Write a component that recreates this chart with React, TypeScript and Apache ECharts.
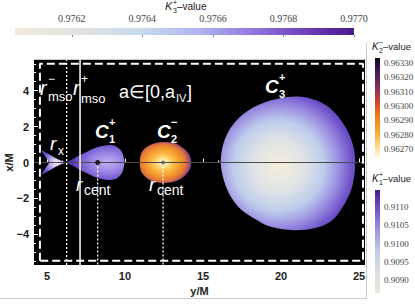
import React, { useEffect, useRef } from 'react';
import * as echarts from 'echarts';

// main plot ranges and ticks
const X_RANGE = [4.17, 25.38];
const Y_RANGE = [-5.71, 5.71];
const xTicks = [5, 10, 15, 20, 25];
const yTicks = [-4, -2, 0, 2, 4];
const xMinorTicks = [6, 7, 8, 9, 11, 12, 13, 14, 16, 17, 18, 19, 21, 22, 23, 24];
const yMinorTicks = [-5.5, -5, -4.5, -3.5, -3, -2.5, -1.5, -1, -0.5, 0.5, 1, 1.5, 2.5, 3, 3.5, 4.5, 5, 5.5];

// dashed domain box
const boxX = [4.55, 25.25];
const boxY = [-5.48, 5.5];

// characteristic radii
const rMsoMinus = 6.26;
const rMsoPlus = 7.12;
const rCent = [8.25, 12.44];

// closed surfaces (outline points, x = y/M, y = x/M)
const rxShape = [
  [4.64, 0.7], [5.1, 0.47], [5.6, 0.22], [6.0, 0.07], [6.26, 0], [6.0, -0.07], [5.6, -0.22], [5.1, -0.47],
  [4.64, -0.7], [4.8, -0.45], [4.98, -0.22], [5.15, 0], [4.98, 0.22], [4.8, 0.45],
];
const c1Shape = [
  [6.26, 0], [6.6, 0.16], [7.0, 0.36], [7.5, 0.57], [8.0, 0.78], [8.5, 0.92], [9.0, 0.98], [9.4, 0.92],
  [9.7, 0.72], [9.88, 0.43], [9.95, 0.15], [9.96, 0], [9.95, -0.15], [9.88, -0.43], [9.7, -0.72], [9.4, -0.92],
  [9.0, -0.98], [8.5, -0.92], [8.0, -0.78], [7.5, -0.57], [7.0, -0.36], [6.6, -0.16],
];
const c2Shape = [
  [10.95, 0], [11.06, 0.55], [11.45, 0.9], [12.0, 1.1], [12.6, 1.14], [13.3, 1.03], [13.85, 0.72], [14.17, 0.36],
  [14.25, 0], [14.17, -0.36], [13.85, -0.72], [13.3, -1.03], [12.6, -1.14], [12.0, -1.1], [11.45, -0.9], [11.06, -0.55],
];
const c3Shape = [
  [21.0, 3.68], [22.3, 3.45], [23.3, 2.9], [24.1, 2.0], [24.6, 1.0], [24.75, 0], [24.6, -1.2], [24.2, -2.1],
  [23.3, -3.2], [22.2, -3.65], [20.8, -3.77], [19.4, -3.6], [18.45, -3.2], [17.3, -2.5], [16.6, -1.6],
  [16.2, -0.5], [16.15, 0.3], [16.4, 1.3], [17.0, 2.2], [17.9, 2.9], [19.3, 3.45],
];

// colour bars
const k3Range = [0.976039, 0.977];
const k3Ticks = [0.9762, 0.9764, 0.9766, 0.9768, 0.977];
const k2Range = [0.962637, 0.963335];
const k2Ticks = [0.9627, 0.9628, 0.9629, 0.963, 0.9631, 0.9632, 0.9633];
const k1Range = [0.90864, 0.91147];
const k1Ticks = [0.909, 0.9095, 0.91, 0.9105, 0.911];

const SANS = '"Liberation Sans", Arial, sans-serif';
const SERIF = '"Liberation Serif", "Times New Roman", serif';

const stops = (arr: [number, string][]) => arr.map(([offset, color]) => ({ offset, color }));

const k3Stops = stops([[0, '#f1ebdb'], [0.2, '#e0e2e2'], [0.38, '#c6d9ec'], [0.55, '#aeb1ee'], [0.72, '#8d70dc'], [0.88, '#6838b4'], [1, '#4a1a8c']]);
const k2Stops = stops([[0, '#12081e'], [0.12, '#3c1852'], [0.3, '#8e2c5a'], [0.45, '#d2472c'], [0.58, '#f07a1a'], [0.72, '#f8a428'], [0.85, '#fcd070'], [1, '#fffbea']]);
const k1Stops = stops([[0, '#4b1b8e'], [0.2, '#7458cc'], [0.4, '#9f98e2'], [0.6, '#c1cde9'], [0.8, '#dcdee0'], [1, '#eee7d7']]);

function blobSeries(pts: number[][], fill: any, smooth: number) {
  return {
    type: 'custom',
    coordinateSystem: 'cartesian2d',
    xAxisIndex: 0,
    yAxisIndex: 0,
    silent: true,
    z: 2,
    data: [pts[0]],
    renderItem: (_p: any, api: any) => ({
      type: 'polygon',
      shape: { points: pts.map((p) => api.coord(p)), smooth },
      style: { fill },
    }),
  };
}

function lineSeries(data: any[], color: string, width: number, type: any, z = 5) {
  return {
    type: 'line',
    xAxisIndex: 0,
    yAxisIndex: 0,
    data,
    symbol: 'none',
    silent: true,
    z,
    lineStyle: { color, width, type },
  };
}

function txt(text: string, x: number, y: number, size: number, o: any = {}) {
  return {
    type: 'text',
    x,
    y,
    z: 100,
    silent: true,
    style: {
      text,
      fill: o.fill ?? '#ffffff',
      fontSize: size,
      fontFamily: o.serif ? SERIF : SANS,
      fontStyle: o.italic ? 'italic' : 'normal',
      fontWeight: o.bold ? 'bold' : 'normal',
      align: o.align ?? 'left',
      verticalAlign: 'middle',
    },
  };
}

export default function App() {
  const ref = useRef<HTMLDivElement>(null);
  useEffect(() => {
    if (!ref.current) return;
    const chart = echarts.init(ref.current, null, { renderer: 'svg' });

    const RG = echarts.graphic.RadialGradient;
    const LG = echarts.graphic.LinearGradient;

    const hiddenAxis = (gridIndex: number, min: number, max: number) => ({
      type: 'value', gridIndex, min, max, show: false,
    });

    const option: any = {
      animation: false,
      backgroundColor: '#ffffff',
      textStyle: { fontFamily: SANS },
      grid: [
        { left: 34, top: 60, width: 331, height: 205, show: true, backgroundColor: '#000000', borderWidth: 0, containLabel: false, outerBoundsMode: 'none' },
        { left: 15, top: 28, width: 339, height: 7, containLabel: false, outerBoundsMode: 'none' },
        { left: 375, top: 58, width: 5, height: 100, containLabel: false, outerBoundsMode: 'none' },
        { left: 375, top: 190, width: 5, height: 103, containLabel: false, outerBoundsMode: 'none' },
      ],
      xAxis: [
        {
          type: 'value', gridIndex: 0, min: X_RANGE[0], max: X_RANGE[1], position: 'bottom',
          axisLine: { show: false },
          axisTick: { show: true, inside: true, customValues: xTicks, length: 4, lineStyle: { color: '#ffffff', width: 1 } },
          axisLabel: { customValues: xTicks, fontWeight: 'bold', fontSize: 11, color: '#222', fontFamily: SANS, margin: 5 },
          splitLine: { show: false },
          name: 'y/M', nameLocation: 'middle', nameGap: 20, nameMoveOverlap: false,
          nameTextStyle: { fontWeight: 'bold', fontSize: 11, color: '#222', fontFamily: SANS },
        },
        {
          type: 'value', gridIndex: 0, min: X_RANGE[0], max: X_RANGE[1], position: 'bottom', offset: 0,
          axisLine: { show: false },
          axisTick: { show: true, inside: true, customValues: xMinorTicks, length: 2, lineStyle: { color: '#ffffff', width: 1 } },
          axisLabel: { show: false },
          splitLine: { show: false },
        },
        {
          type: 'value', gridIndex: 1, min: k3Range[0], max: k3Range[1], position: 'top',
          axisLine: { show: false },
          axisTick: { show: true, inside: true, customValues: k3Ticks, length: 2, lineStyle: { color: '#888' } },
          axisLabel: { customValues: k3Ticks, formatter: (v: number) => v.toFixed(4), fontFamily: SERIF, fontSize: 10, color: '#444', margin: 5 },
          splitLine: { show: false },
        },
        hiddenAxis(2, 0, 1),
        hiddenAxis(3, 0, 1),
      ],
      yAxis: [
        {
          type: 'value', gridIndex: 0, min: Y_RANGE[0], max: Y_RANGE[1], position: 'left',
          axisLine: { show: false },
          axisTick: { show: true, inside: true, customValues: yTicks, length: 4, lineStyle: { color: '#ffffff', width: 1 } },
          axisLabel: {
            customValues: yTicks, fontWeight: 'bold', fontSize: 11, color: '#222', fontFamily: SANS, margin: 5,
            formatter: (v: number) => String(v).replace('-', '\u2212'),
          },
          splitLine: { show: false },
          name: 'x/M', nameLocation: 'middle', nameGap: 20, nameMoveOverlap: false,
          nameTextStyle: { fontWeight: 'bold', fontSize: 11, color: '#222', fontFamily: SANS },
        },
        {
          type: 'value', gridIndex: 0, min: Y_RANGE[0], max: Y_RANGE[1], position: 'left', offset: 0,
          axisLine: { show: false },
          axisTick: { show: true, inside: true, customValues: yMinorTicks, length: 2, lineStyle: { color: '#ffffff', width: 1 } },
          axisLabel: { show: false },
          splitLine: { show: false },
        },
        hiddenAxis(1, 0, 1),
        {
          type: 'value', gridIndex: 2, min: k2Range[0], max: k2Range[1], position: 'right',
          axisLine: { show: false }, axisTick: { show: false }, splitLine: { show: false },
          axisLabel: { customValues: k2Ticks, formatter: (v: number) => v.toFixed(5), fontFamily: SERIF, fontSize: 9, color: '#444', margin: 4 },
        },
        {
          type: 'value', gridIndex: 3, min: k1Range[0], max: k1Range[1], position: 'right',
          axisLine: { show: false }, axisTick: { show: false }, splitLine: { show: false },
          axisLabel: { customValues: k1Ticks, formatter: (v: number) => v.toFixed(4), fontFamily: SERIF, fontSize: 9, color: '#444', margin: 4 },
        },
      ],
      series: [
        blobSeries(rxShape, new RG(0.6, 0.5, 0.55, stops([[0, '#f8f5fc'], [0.4, '#c4b6f0'], [1, '#6549c8']])), 0),
        blobSeries(c1Shape, new RG(0.7, 0.5, 0.6, stops([[0, '#bfb2f2'], [0.5, '#9680e2'], [0.85, '#6e52cd'], [1, '#5536b4']])), 0.2),
        blobSeries(c2Shape, new RG(0.45, 0.5, 0.55, stops([[0, '#fffdf0'], [0.15, '#ffeaa2'], [0.35, '#fcc24e'], [0.6, '#f59a2e'], [0.8, '#e27a32'], [0.92, '#b0506a'], [1, '#5b3a9e']])), 0.35),
        blobSeries(c3Shape, new RG(0.43, 0.52, 0.56, stops([[0, '#f5eddb'], [0.35, '#dfe3e6'], [0.6, '#bfcdec'], [0.8, '#9b8fe1'], [1, '#6a4cc8']])), 0.35),
        lineSeries([[X_RANGE[0], 0], [X_RANGE[1], 0]], '#4a4a4a', 1, 'solid', 4),
        lineSeries([[rMsoMinus, Y_RANGE[0]], [rMsoMinus, Y_RANGE[1]]], '#ffffff', 1.3, [2, 2]),
        lineSeries([[rMsoPlus, Y_RANGE[0]], [rMsoPlus, Y_RANGE[1]]], '#ffffff', 1.5, 'solid'),
        ...rCent.map((r) => lineSeries([[r, 0], [r, Y_RANGE[0]]], '#ffffff', 1.3, [2, 2])),
        lineSeries([[boxX[0], boxY[0]], [boxX[0], boxY[1]], [boxX[1], boxY[1]], [boxX[1], boxY[0]], [boxX[0], boxY[0]]], '#ffffff', 2, [8, 4], 6),
        {
          type: 'scatter', xAxisIndex: 0, yAxisIndex: 0, silent: true, z: 7,
          data: [[rCent[0], 0]], symbolSize: 5, itemStyle: { color: '#000000' },
        },
        {
          type: 'scatter', xAxisIndex: 0, yAxisIndex: 0, silent: true, z: 7,
          data: [[rCent[1], 0]], symbolSize: 4, itemStyle: { color: '#555555' },
        },
        {
          type: 'custom', coordinateSystem: 'cartesian2d', xAxisIndex: 2, yAxisIndex: 2, silent: true,
          data: [[k3Range[0], 0]],
          renderItem: (_p: any, api: any) => {
            const a = api.coord([k3Range[0], 0]);
            const b = api.coord([k3Range[1], 1]);
            return { type: 'rect', shape: { x: a[0], y: b[1], width: b[0] - a[0], height: a[1] - b[1] }, style: { fill: new LG(0, 0, 1, 0, k3Stops) } };
          },
        },
        {
          type: 'custom', coordinateSystem: 'cartesian2d', xAxisIndex: 3, yAxisIndex: 3, silent: true,
          data: [[0, k2Range[0]]],
          renderItem: (_p: any, api: any) => {
            const a = api.coord([0, k2Range[0]]);
            const b = api.coord([1, k2Range[1]]);
            return { type: 'rect', shape: { x: a[0], y: b[1], width: b[0] - a[0], height: a[1] - b[1] }, style: { fill: new LG(0, 0, 0, 1, k2Stops) } };
          },
        },
        {
          type: 'custom', coordinateSystem: 'cartesian2d', xAxisIndex: 4, yAxisIndex: 4, silent: true,
          data: [[0, k1Range[0]]],
          renderItem: (_p: any, api: any) => {
            const a = api.coord([0, k1Range[0]]);
            const b = api.coord([1, k1Range[1]]);
            return { type: 'rect', shape: { x: a[0], y: b[1], width: b[0] - a[0], height: a[1] - b[1] }, style: { fill: new LG(0, 0, 0, 1, k1Stops) } };
          },
        },
      ],
      graphic: [
        { type: 'line', z: 1, silent: true, shape: { x1: 366.5, y1: 43, x2: 366.5, y2: 298.5 }, style: { stroke: '#cccccc', lineWidth: 1 } },
        { type: 'line', z: 1, silent: true, shape: { x1: 0, y1: 298.5, x2: 366.5, y2: 298.5 }, style: { stroke: '#cccccc', lineWidth: 1 } },
        { type: 'line', z: 1, silent: true, shape: { x1: 34, y1: 59.5, x2: 366.5, y2: 59.5 }, style: { stroke: '#cccccc', lineWidth: 1 } },
        // plot annotations
        txt('r', 40, 88, 20, { italic: true }),
        txt('\u2212', 48, 79, 12),
        txt('mso', 48, 96, 13),
        txt('r', 73, 88, 20, { italic: true }),
        txt('+', 81, 79, 12),
        txt('mso', 81, 98, 13),
        txt('a\u2208[0,a', 119, 92, 18),
        txt('IV', 176, 98, 11),
        txt(']', 187, 92, 18),
        txt('r', 50, 143, 19, { italic: true }),
        txt('x', 58, 151, 12),
        txt('C', 95, 131, 19, { italic: true, bold: true }),
        txt('+', 109, 122, 11, { bold: true }),
        txt('1', 109, 139, 11, { bold: true }),
        txt('C', 157, 131, 19, { italic: true, bold: true }),
        txt('\u2212', 171, 122, 11, { bold: true }),
        txt('2', 171, 139, 11, { bold: true }),
        txt('C', 265, 86, 19, { italic: true, bold: true }),
        txt('+', 279, 77, 11, { bold: true }),
        txt('3', 279, 94, 11, { bold: true }),
        txt('r', 76, 184, 19, { italic: true }),
        txt('cent', 84, 190, 14),
        txt('r', 149, 184, 19, { italic: true }),
        txt('cent', 157, 190, 14),
        // colour bar titles
        txt('K', 165, 6, 11, { italic: true, fill: '#222' }),
        txt('+', 173, 2, 7, { fill: '#222' }),
        txt('3', 173, 10, 7, { fill: '#222' }),
        txt('\u2013value', 177, 6, 10, { fill: '#222' }),
        txt('K', 372, 46, 10, { italic: true, fill: '#222' }),
        txt('\u2212', 379, 42, 7, { fill: '#222' }),
        txt('2', 379, 50, 7, { fill: '#222' }),
        txt('\u2013value', 383, 46, 9.5, { fill: '#222' }),
        txt('K', 372, 178, 10, { italic: true, fill: '#222' }),
        txt('+', 379, 174, 7, { fill: '#222' }),
        txt('1', 379, 182, 7, { fill: '#222' }),
        txt('\u2013value', 383, 178, 9.5, { fill: '#222' }),
      ],
    };

    chart.setOption(option);
    return () => chart.dispose();
  }, []);

  return <div ref={ref} style={{ position: 'absolute', left: 0, top: 0, width: 415, height: 304 }} />;
}
